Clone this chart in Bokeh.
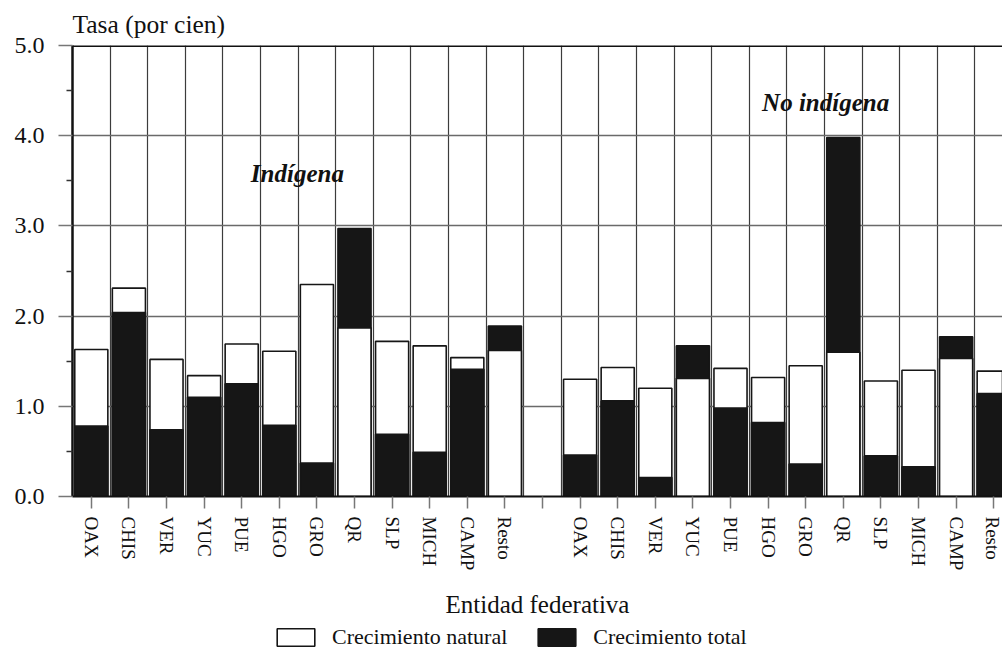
from bokeh.plotting import figure
from bokeh.layouts import column
from bokeh.models import (Range1d, FixedTicker, PrintfTickFormatter, Label, Span,
                          Legend, LegendItem, ColumnDataSource)
from bokeh.embed import file_html
from bokeh.resources import INLINE

# Entidades federativas (same order for both population groups)
entidades = ["OAX", "CHIS", "VER", "YUC", "PUE", "HGO", "GRO", "QR", "SLP", "MICH", "CAMP", "Resto"]

# Tasas de crecimiento (por cien)
natural_indigena = [1.63, 2.31, 1.52, 1.34, 1.69, 1.61, 2.35, 1.87, 1.72, 1.67, 1.54, 1.62]
total_indigena = [0.78, 2.04, 0.74, 1.10, 1.25, 0.79, 0.37, 2.97, 0.69, 0.49, 1.41, 1.89]
natural_no_indigena = [1.30, 1.43, 1.20, 1.31, 1.42, 1.32, 1.45, 1.60, 1.28, 1.40, 1.53, 1.39]
total_no_indigena = [0.46, 1.06, 0.21, 1.67, 0.98, 0.82, 0.36, 3.98, 0.45, 0.33, 1.77, 1.14]

y_ticks = [0, 1, 2, 3, 4, 5]

SERIF = "Liberation Serif"
INK = "#111111"
BLACK = "#161616"
WHITE = "#ffffff"

n = len(entidades)
x_ind = list(range(n))                 # 0..11
gap = n                                # empty slot between the two groups
x_no = list(range(n + 1, 2 * n + 1))   # 13..24

xs = x_ind + x_no
nat = natural_indigena + natural_no_indigena
tot = total_indigena + total_no_indigena

# taller bar drawn behind, shorter bar in front
back_top, back_col, front_top, front_col = [], [], [], []
for a, b in zip(nat, tot):
    if a >= b:
        back_top.append(a); back_col.append(WHITE)
        front_top.append(b); front_col.append(BLACK)
    else:
        back_top.append(b); back_col.append(BLACK)
        front_top.append(a); front_col.append(WHITE)

back = ColumnDataSource(dict(x=xs, top=back_top, color=back_col))
front = ColumnDataSource(dict(x=xs, top=front_top, color=front_col))

W = 1002
MAIN_H = 624
LEG_H = 26
FRAME_BOTTOM = 496
slot_px = 37.6
frame_w = W - 72
p = figure(width=W, height=MAIN_H,
           x_range=Range1d(-0.5, -0.5 + frame_w / slot_px), y_range=Range1d(0, 5),
           output_backend="svg", toolbar_location=None,
           min_border_left=72, min_border_right=0, min_border_top=45,
           min_border_bottom=MAIN_H - FRAME_BOTTOM)
p.outline_line_color = None
p.background_fill_color = "white"

# title above the frame, flush with its left edge
p.title.text = "Tasa (por cien)"
p.title.align = "left"
p.title.text_font = SERIF
p.title.text_font_size = "25.5px"
p.title.text_font_style = "normal"
p.title.text_color = INK
p.title.standoff = 14

bar_w = 0.88
p.vbar(x="x", top="top", bottom=0, width=bar_w, source=back,
       fill_color="color", line_color=BLACK, line_width=1.6)
p.vbar(x="x", top="top", bottom=0, width=bar_w, source=front,
       fill_color="color", line_color=BLACK, line_width=1.6)

# grids
p.xgrid.ticker = FixedTicker(ticks=[i + 0.5 for i in range(2 * n)])
p.xgrid.grid_line_color = "#3c3c3c"
p.xgrid.grid_line_width = 1.2
p.ygrid.ticker = FixedTicker(ticks=[1, 2, 3, 4])
p.ygrid.grid_line_color = "#6a6a6a"
p.ygrid.grid_line_width = 1.6

# top border
p.add_layout(Span(location=5, dimension="width", line_color=INK, line_width=3))

# y axis
ya = p.yaxis[0]
ya.ticker = FixedTicker(ticks=y_ticks, minor_ticks=[v + 0.5 for v in y_ticks[:-1]])
ya.formatter = PrintfTickFormatter(format="%.1f")
ya.axis_line_color = INK
ya.axis_line_width = 2.5
ya.major_tick_out = 14
ya.major_tick_in = 0
ya.minor_tick_out = 6
ya.minor_tick_in = 0
ya.major_tick_line_color = "#777777"
ya.minor_tick_line_color = "#333333"
ya.major_tick_line_width = 1.5
ya.minor_tick_line_width = 1.5
ya.major_label_text_font = SERIF
ya.major_label_text_font_size = "24px"
ya.major_label_text_font_style = "normal"
ya.major_label_text_color = INK
ya.major_label_standoff = 14

# x axis
xa = p.xaxis[0]
ticks_x = x_ind + [gap] + x_no
xa.ticker = FixedTicker(ticks=ticks_x)
overrides = {x: lab for x, lab in zip(x_ind, entidades)}
overrides.update({x: lab for x, lab in zip(x_no, entidades)})
overrides[gap] = ""
xa.major_label_overrides = overrides
xa.major_label_orientation = "vertical"
xa.axis_line_color = INK
xa.axis_line_width = 2
xa.major_tick_out = 12
xa.major_tick_in = 0
xa.major_tick_line_color = "#777777"
xa.major_tick_line_width = 1.5
xa.minor_tick_line_color = None
xa.major_label_text_font = SERIF
xa.major_label_text_font_size = "19px"
xa.major_label_text_color = INK
xa.major_label_standoff = 8
xa.axis_label = "Entidad federativa"
xa.axis_label_text_font = SERIF
xa.axis_label_text_font_size = "25px"
xa.axis_label_text_font_style = "normal"
xa.axis_label_text_color = INK
xa.axis_label_standoff = 18

# group labels inside the frame
p.add_layout(Label(x=5.48, y=3.58, text="Indígena", text_font=SERIF, text_font_size="25px",
                   text_font_style="bold italic", text_color=INK,
                   text_align="center", text_baseline="alphabetic"))
p.add_layout(Label(x=19.53, y=4.37, text="No indígena", text_font=SERIF, text_font_size="25px",
                   text_font_style="bold italic", text_color=INK,
                   text_align="center", text_baseline="alphabetic"))

# legend strip under the chart (its frame lines up with the chart frame)
lg = figure(width=W, height=LEG_H, x_range=Range1d(0, 1), y_range=Range1d(0, 1),
            output_backend="svg", toolbar_location=None,
            min_border_left=0, min_border_right=0, min_border_top=0, min_border_bottom=0)
for ax in lg.axis:
    ax.visible = False
for g in lg.grid:
    g.visible = False
lg.outline_line_color = None
# hidden swatch renderers: only their legend entries are drawn
r_nat = lg.vbar(x=[0.5], top=[0.5], width=0.1,
                fill_color=WHITE, line_color=BLACK, line_width=1.6, visible=False)
r_tot = lg.vbar(x=[0.5], top=[0.5], width=0.1,
                fill_color=BLACK, line_color=BLACK, line_width=1.6, visible=False)
legend = Legend(items=[LegendItem(label="Crecimiento natural", renderers=[r_nat]),
                       LegendItem(label="Crecimiento total", renderers=[r_tot])],
                orientation="horizontal", location=(200, 0),
                glyph_width=47, glyph_height=22, label_standoff=13, spacing=26,
                padding=0, margin=0, border_line_color=None, background_fill_alpha=0,
                inactive_fill_alpha=0,
                label_text_font=SERIF, label_text_font_size="22px", label_text_color=INK)
lg.add_layout(legend)

page = column(p, lg, spacing=0)
open("out.html", "w").write(file_html(page, INLINE))
